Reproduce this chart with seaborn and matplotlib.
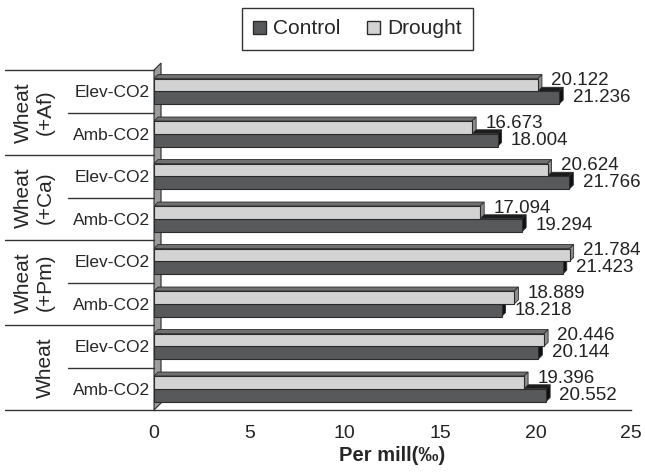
import numpy as np
import pandas as pd
import matplotlib
matplotlib.use('Agg')

import matplotlib.pyplot as plt
from matplotlib.patches import Polygon, Patch
from matplotlib.transforms import blended_transform_factory
import seaborn as sns

groups = ["Wheat\n(+Af)", "Wheat\n(+Ca)", "Wheat\n(+Pm)", "Wheat"]
levels = ["Elev-CO2", "Amb-CO2"]
control = [21.236, 18.004, 21.766, 19.294, 21.423, 18.218, 20.144, 20.552]
drought = [20.122, 16.673, 20.624, 17.094, 21.784, 18.889, 20.446, 19.396]
xticks = [0, 5, 10, 15, 20, 25]

sns.set_style("white")
plt.rcParams['font.family'] = ['Liberation Sans', 'DejaVu Sans']

rows = [f"{g} {l}" for g in groups for l in levels]
df = pd.DataFrame({
    "row": rows * 2,
    "value": drought + control,
    "treatment": ["Drought"] * len(rows) + ["Control"] * len(rows),
})

colors = {"Control": "#58595b", "Drought": "#d3d3d3"}
top_colors = {"Control": "#1c1c1c", "Drought": "#707070"}
side_colors = {"Control": "#101010", "Drought": "#8e8e8e"}
edge = "#2b2b2b"

fig = plt.figure(figsize=(6.45, 4.75), dpi=100)
ax = fig.add_axes([0.2388, 0.1368, 0.7395, 0.7158])

sns.barplot(data=df, x="value", y="row", hue="treatment",
            hue_order=["Drought", "Control"], palette=colors, orient="h",
            width=0.6, saturation=1, edgecolor=edge, linewidth=0.8,
            legend=False, ax=ax)

ax.set_xlim(0, 25)
ax.set_ylim(len(rows) - 0.5, -0.5)

# 3D look: pixel depth converted to data units
bbox = ax.get_window_extent()
px_x = 25 / bbox.width
px_y = len(rows) / bbox.height
dx, dy = 4 * px_x, 4 * px_y

# back wall
wx, wy = 7 * px_x, 7 * px_y
y_top, y_bot = -0.5, len(rows) - 0.5
ax.add_patch(Polygon([(0, y_bot), (0, y_top), (wx, y_top - wy), (wx, y_bot - wy)],
                     closed=True, fc="#9c9c9c", ec=edge, lw=0.8, zorder=1, clip_on=False))

for cont, name, z in zip(ax.containers, ["Drought", "Control"], [4, 3]):
    for bar in cont:
        x0 = bar.get_x()
        x1 = x0 + bar.get_width()
        ya = min(bar.get_y(), bar.get_y() + bar.get_height())
        yb = max(bar.get_y(), bar.get_y() + bar.get_height())
        bar.set_zorder(z)
        ax.add_patch(Polygon([(x0, ya), (x1, ya), (x1 + dx, ya - dy), (x0 + dx, ya - dy)],
                             closed=True, fc=top_colors[name], ec=edge, lw=0.6, zorder=z - 0.1))
        ax.add_patch(Polygon([(x1, ya), (x1 + dx, ya - dy), (x1 + dx, yb - dy), (x1, yb)],
                             closed=True, fc=side_colors[name], ec=edge, lw=0.6, zorder=z - 0.1))
        yc = (ya + yb) / 2
        if name == "Drought":
            yc -= 0.1
        ax.text(x1 + 0.7, yc, f"{x1:.3f}", ha="left", va="center",
                fontsize=13.5, color="#222222")

# y labels and left separators
ax.set_yticks(range(len(rows)))
ax.set_yticklabels(levels * len(groups), fontsize=12.5)
ax.tick_params(axis="y", length=0, pad=3)

trans = blended_transform_factory(ax.transAxes, ax.transData)
for k in range(len(groups) + 1):
    yv = 2 * k - 0.5
    ax.plot([-0.312, 0], [yv, yv], transform=trans, clip_on=False, color="#333333", lw=1)
for k in range(len(groups)):
    yv = 2 * k + 0.5
    ax.plot([-0.18, 0], [yv, yv], transform=trans, clip_on=False, color="#333333", lw=1)
    ax.text(-0.2075, 2 * k + 0.5, groups[k], transform=trans, rotation=90,
            ha="right", va="center", multialignment="center", fontsize=15)

# x axis
ax.set_xticks(xticks)
ax.tick_params(axis="x", direction="out", length=5, width=1, labelsize=14, pad=6, colors="#222222")
ax.set_xlabel("Per mill(‰)", fontsize=14.5, fontweight="bold", labelpad=3)
ax.set_ylabel("")
for s in ["top", "right", "left"]:
    ax.spines[s].set_visible(False)
ax.spines["bottom"].set_color("#333333")
ax.spines["bottom"].set_linewidth(1)

handles = [Patch(fc=colors["Control"], ec=edge, label="Control"),
           Patch(fc=colors["Drought"], ec=edge, label="Drought")]
leg = fig.legend(handles=handles, loc="upper center", bbox_to_anchor=(357.5 / 645, 1 - 8 / 475),
                 ncol=2, frameon=True, fancybox=False, edgecolor="black", fontsize=15,
                 handlelength=0.6, handleheight=0.6, borderpad=0.55, columnspacing=1.3,
                 handletextpad=0.35, borderaxespad=0)
leg.get_frame().set_linewidth(1)

plt.savefig("out.png", dpi=100)
